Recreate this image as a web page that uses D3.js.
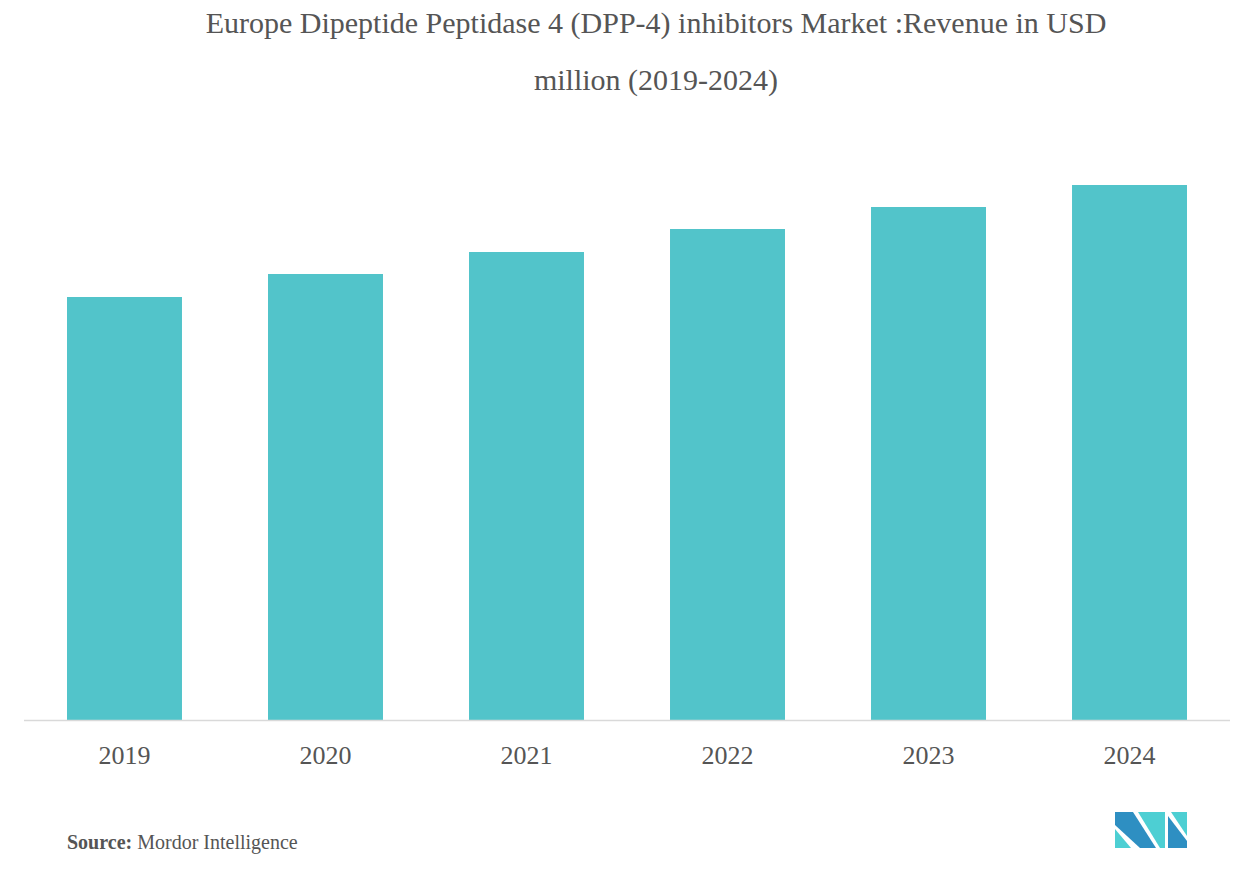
<!DOCTYPE html>
<html>
<head>
<meta charset="utf-8">
<script src="https://cdn.jsdelivr.net/npm/d3@7"></script>
<style>
  body { margin: 0; background: #fff; }
  text { font-family: "Liberation Serif", serif; }
</style>
</head>
<body>
<div id="chart"></div>
<script>
// chart data (no y axis shown, so relative units)
var years = ["2019", "2020", "2021", "2022", "2023", "2024"];
var revenue = [423, 446, 468, 491, 513, 535];
var titleLines = ["Europe Dipeptide Peptidase 4 (DPP-4) inhibitors Market :Revenue in USD",
                  "million (2019-2024)"];

function drawChart(tag) {
  var width = 1255, height = 880;

  var svg = d3.select('#' + tag)
    .append("svg")
      .attr("width", width)
      .attr("height", height);

  // title
  svg.append("g")
    .selectAll("text")
    .data(titleLines)
    .join("text")
      .attr("x", 656)
      .attr("y", function(d, i) { return 33 + i * 57; })
      .attr("text-anchor", "middle")
      .attr("font-size", 30)
      .attr("fill", "#555")
      .text(function(d) { return d; });

  var baseline = 720;

  // X axis
  var xscale = d3.scaleBand()
    .domain(years)
    .range([67, 1187])
    .paddingInner(0.428)
    .paddingOuter(0);

  // Y axis (not drawn)
  var yscale = d3.scaleLinear()
    .domain([0, d3.max(revenue)])
    .range([baseline, 185]);

  var data = years.map(function(y, i) { return {year: y, value: revenue[i]}; });

  svg.append("g")
    .selectAll("rect")
    .data(data)
    .join("rect")
      .attr("x", function(d) { return xscale(d.year); })
      .attr("y", function(d) { return yscale(d.value); })
      .attr("width", xscale.bandwidth())
      .attr("height", function(d) { return baseline - yscale(d.value); })
      .attr("fill", "#52c4ca");

  // baseline
  svg.append("line")
    .attr("x1", 24)
    .attr("x2", 1230)
    .attr("y1", baseline + 0.5)
    .attr("y2", baseline + 0.5)
    .attr("stroke", "#d9d9d9")
    .attr("stroke-width", 1.5);

  svg.append("g")
    .selectAll("text")
    .data(years)
    .join("text")
      .attr("x", function(d) { return xscale(d) + xscale.bandwidth() / 2; })
      .attr("y", 764)
      .attr("text-anchor", "middle")
      .attr("font-size", 26)
      .attr("fill", "#555")
      .text(function(d) { return d; });

  // source line
  var src = svg.append("text")
    .attr("x", 67)
    .attr("y", 849)
    .attr("font-size", 20)
    .attr("fill", "#555");
  src.append("tspan").attr("font-weight", "bold").text("Source:");
  src.append("tspan").text(" Mordor Intelligence");

  // logo
  var logo = svg.append("g");
  var shapes = [
    {c: "#2e8fc2", p: [[1115,812],[1133,812],[1156,848],[1140,848],[1115,825]]},
    {c: "#4dcfd3", p: [[1115,829],[1115,848],[1131,848]]},
    {c: "#4dcfd3", p: [[1138,812],[1165,812],[1165,848],[1160,848]]},
    {c: "#2e8fc2", p: [[1168,816],[1187,841],[1187,848],[1168,848]]},
    {c: "#4dcfd3", p: [[1171,812],[1187,812],[1187,836]]}
  ];
  logo.selectAll("path")
    .data(shapes)
    .join("path")
      .attr("d", function(d) { return "M" + d.p.join("L") + "Z"; })
      .attr("fill", function(d) { return d.c; });
}

drawChart("chart");
</script>
</body>
</html>
